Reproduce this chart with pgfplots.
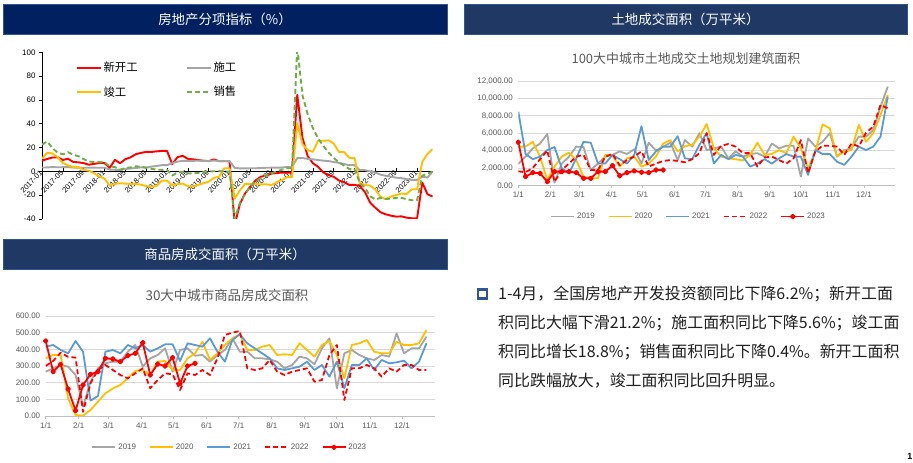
\documentclass[border=0pt]{standalone}
\usepackage{fontspec}
\setmainfont{Liberation Sans}
\newfontfamily\cjk{Noto Sans CJK SC}
\usepackage{pgfplots}
\usepackage{pgfplotstable}
\pgfplotsset{compat=1.18}
\definecolor{cRed}{HTML}{FF0000}
\definecolor{cYel}{HTML}{FFC000}
\definecolor{cGray}{HTML}{A5A5A5}
\definecolor{cBlue}{HTML}{5B9BD5}
\definecolor{cGreen}{HTML}{70AD47}
\definecolor{txtGray}{HTML}{595959}
\definecolor{gridGray}{HTML}{D9D9D9}
\definecolor{axGray}{HTML}{BFBFBF}
\definecolor{navyA}{HTML}{002060}
\definecolor{navyB}{HTML}{1F3864}
\definecolor{edgeBlue}{HTML}{2F5597}

% month index 0 = 2017-01 ... 75 = 2023-04 ; cumulative YoY %
\pgfplotstableread{
m xk sg jg xs
0 9.0 3.2 10.7 22.5
1 10.4 3.3 15.7 25.1
2 11.6 3.6 15.0 19.5
3 11.8 3.4 12.0 15.7
4 9.6 3.5 7.0 14.3
5 10.6 3.6 5.0 16.1
6 7.9 3.2 3.6 14.0
7 7.6 3.1 3.6 12.7
8 6.9 3.0 1.2 10.3
9 5.6 3.0 0.5 8.2
10 6.3 3.1 -1.5 7.9
11 7.0 3.0 -4.4 7.7
12 7.0 3.0 -6.0 7.7
13 2.9 1.5 -12.0 4.1
14 9.7 1.3 -10.4 3.6
15 6.8 1.3 -10.0 1.3
16 10.2 2.0 -10.3 2.9
17 11.8 2.4 -10.5 3.3
18 14.4 2.8 -10.5 4.2
19 15.5 3.3 -11.2 4.0
20 16.4 3.3 -12.4 2.9
21 16.3 4.0 -12.8 2.2
22 16.8 4.5 -12.3 1.4
23 17.2 5.2 -7.8 1.3
24 17.2 5.2 -7.8 1.3
25 6.0 6.8 -11.9 -3.6
26 11.9 8.2 -10.8 -0.9
27 13.1 8.8 -10.3 -0.3
28 10.5 8.8 -12.4 -1.6
29 10.1 8.8 -12.7 -1.8
30 9.5 9.0 -11.3 -1.3
31 8.9 8.8 -10.0 -0.6
32 8.6 8.7 -8.6 -0.1
33 10.0 9.0 -5.5 0.1
34 8.6 8.7 -4.5 0.2
35 8.5 8.7 2.6 -0.1
36 8.5 8.7 2.6 -0.1
37 -44.9 2.9 -22.9 -39.9
38 -27.2 2.5 -15.8 -26.3
39 -18.4 2.5 -10.5 -19.3
40 -12.8 2.6 -10.7 -12.3
41 -7.6 2.6 -10.5 -8.4
42 -4.5 2.8 -11.0 -5.8
43 -3.6 3.0 -10.8 -3.3
44 -1.9 3.1 -11.6 -1.8
45 -1.5 3.1 -9.2 0.0
46 -1.0 3.2 -7.3 1.3
47 -1.2 3.7 -4.9 2.6
48 -1.2 3.7 -4.9 2.6
49 64.3 11.1 40.4 104.9
50 28.2 11.2 22.9 63.8
51 12.8 10.5 17.9 48.1
52 6.9 10.1 16.4 36.3
53 3.8 9.5 25.7 27.7
54 -0.9 9.0 25.7 21.5
55 -3.2 8.6 26.0 15.9
56 -4.5 7.9 23.4 11.3
57 -7.7 7.1 16.3 7.5
58 -9.1 6.1 16.2 4.8
59 -11.4 5.2 11.2 1.9
60 -11.4 5.2 11.2 1.9
61 -12.2 1.0 -9.8 -9.6
62 -17.5 1.0 -11.5 -13.8
63 -26.3 0.0 -11.9 -20.9
64 -30.6 -1.0 -15.3 -23.6
65 -34.4 -2.8 -21.5 -22.2
66 -36.1 -3.7 -23.3 -23.1
67 -37.2 -4.5 -21.1 -23.0
68 -38.0 -5.3 -19.9 -22.2
69 -37.8 -5.7 -18.7 -22.3
70 -38.9 -6.5 -19.0 -23.3
71 -39.4 -7.2 -15.0 -24.3
72 -39.4 -7.2 -15.0 -24.3
73 -9.4 -4.4 8.0 -3.6
74 -19.2 -5.2 14.7 -1.8
75 -21.2 0.0 18.8 -0.4
}\tabRE

% land: day of year, weekly
\pgfplotstableread{
d y19 y20 y21 y22
0 2450 4450 8470 1600
7 3300 4450 3600 1500
14 4250 5000 3000 2000
21 4800 3300 3300 3000
28 5900 600 4050 4000
35 300 2150 4400 400
42 2500 3300 1950 1750
49 3300 3750 1400 2500
56 4450 2900 3100 3300
63 4400 1000 5000 3500
70 1750 800 4900 1750
77 2500 800 2500 1750
84 3300 3500 2500 3300
91 3500 3400 3500 3600
98 3900 2150 3000 2300
105 3600 3100 2500 2900
112 4150 3300 3500 3300
119 2500 2150 6800 3900
126 4900 2500 2900 2150
133 4000 3300 3900 2500
140 4450 4800 4450 2800
147 4900 5200 4450 2900
154 2900 3900 5650 2800
161 5200 4500 3100 2650
168 4450 4650 3000 3000
175 6000 5600 4650 3700
182 4050 7050 6000 6000
189 4250 4250 2500 3500
196 4450 3300 3500 4550
203 3100 3100 3000 4750
210 3900 3000 3500 4450
217 3300 2850 3300 3700
224 3600 3500 2150 3700
231 3700 4900 2500 2150
238 3300 3500 3000 3200
245 4800 3600 2500 3300
252 4250 4050 3100 2900
259 4550 3700 3600 2500
266 4550 5600 3300 3100
273 1000 4250 3300 5200
280 5400 1950 1200 1400
287 4450 3900 4050 3900
294 5000 7000 3600 4550
301 6000 6550 3600 4550
308 3300 3300 2700 4450
315 4050 3900 2350 3500
322 4250 4050 3300 4800
329 5600 6950 4450 4450
336 5600 5000 4050 6050
343 6350 6000 4450 6750
350 9050 8100 5600 9250
357 11350 10400 10200 8850
}\tabLand

\pgfplotstableread{
d y23
0 4950
7 1000
14 1450
21 1380
28 420
35 1570
42 1570
49 1570
56 1450
63 800
70 800
77 1570
84 1570
91 2260
98 1100
105 1450
112 1650
119 1500
126 1450
133 1760
140 1760
}\tabLandB

\pgfplotstableread{
d y19 y20 y21 y22
0 266 346 416 300
7 286 366 426 330
14 306 366 396 380
21 296 106 376 355
28 246 6 450 350
35 56 2 386 25
42 206 36 92 196
49 286 86 120 276
56 316 136 386 306
63 326 166 396 276
70 326 186 376 246
77 386 226 426 226
84 426 270 406 256
91 296 276 426 286
98 346 246 386 166
105 366 326 406 216
112 406 330 430 256
119 266 276 430 250
126 396 276 330 156
133 406 346 436 256
140 362 376 426 246
147 366 446 416 276
154 326 336 466 246
161 366 376 386 346
168 396 426 326 486
175 466 466 456 500
182 386 490 490 510
189 386 396 436 286
196 346 396 406 276
203 346 416 376 286
210 340 426 346 336
217 326 366 286 266
224 286 370 276 246
231 306 366 286 266
238 356 436 296 276
245 346 396 326 286
252 310 356 276 206
259 406 426 306 216
266 466 450 236 366
273 166 366 326 426
280 376 226 166 96
287 396 426 306 286
294 366 436 306 286
301 346 456 346 306
308 336 386 276 286
315 366 376 336 236
322 356 376 316 286
329 496 446 322 266
336 376 426 332 306
343 406 426 286 306
350 406 436 326 276
357 476 516 436 276
}\tabHouse

\pgfplotstableread{
d y23
0 450
7 266
14 310
21 162
28 32
35 186
42 250
49 266
56 346
63 342
70 326
77 362
84 376
91 440
98 246
105 312
112 300
119 350
126 196
133 300
140 316
}\tabHouseB

\pgfplotsset{
  weekly/.style={
    scale only axis, anchor=south west,
    xmin=0, ymin=0,
    axis x line=bottom, axis y line=left,
    axis line style={-},
    y axis line style={draw=none},
    x axis line style={draw=axGray, line width=0.9bp},
    ytick style={draw=none},
    xtick style={draw=axGray, line width=0.8bp},
    tick align=outside, major tick length=3bp,
    scaled y ticks=false,
    ymajorgrids, grid style={draw=gridGray, line width=0.7bp},
    xtick={0,31,59,90,120,151,181,212,243,273,304,334},
    xticklabels={1/1,2/1,3/1,4/1,5/1,6/1,7/1,8/1,9/1,10/1,11/1,12/1},
    ticklabel style={font=\fontsize{8}{9}\selectfont, text=txtGray},
    yticklabel style={xshift=1bp},
    every axis plot/.append style={line width=1.8bp, line join=round},
    legend columns=5,
    legend style={draw=none, fill=none, font=\fontsize{8}{9}\selectfont, text=txtGray,
      /tikz/every even column/.append style={column sep=11bp}},
    legend image code/.code={\draw[mark repeat=2,mark phase=2,#1] plot coordinates {(0bp,0bp) (11.5bp,0bp) (23bp,0bp)};},
  }
}

\begin{document}
\begin{tikzpicture}[x=1bp,y=1bp]
\path[use as bounding box, fill=white] (0,0) rectangle (913,463);

% headers
\fill[navyA] (3,429) rectangle (447,459);
\draw[edgeBlue, line width=0.6bp] (3,429) rectangle (447,459);
\node[text=white, font=\cjk\fontsize{13.5}{15}\selectfont] at (225,444) {房地产分项指标（\%）};
\fill[navyB] (464,429) rectangle (907,459);
\draw[edgeBlue, line width=0.6bp] (464,429) rectangle (907,459);
\node[text=white, font=\cjk\fontsize{13.5}{15}\selectfont] at (685.5,444) {土地成交面积（万平米）};
\fill[navyB] (3,194) rectangle (447,224);
\draw[edgeBlue, line width=0.6bp] (3,194) rectangle (447,224);
\node[text=white, font=\cjk\fontsize{13.5}{15}\selectfont] at (225,209) {商品房成交面积（万平米）};

% chart titles
\node[text=txtGray, font=\cjk\fontsize{13}{15}\selectfont] at (686,404) {100大中城市土地成交土地规划建筑面积};
\node[text=txtGray, font=\cjk\fontsize{13.5}{15}\selectfont] at (227,168) {30大中城市商品房成交面积};

% ---------------- chart 1 ----------------
\begin{axis}[
  at={(42bp,244bp)}, anchor=south west, scale only axis,
  width=390.7bp, height=166.7bp,
  xmin=0, xmax=75, ymin=-40, ymax=100,
  axis x line=middle, axis y line=left,
  axis line style={-, black, line width=0.8bp},
  hide obscured x ticks=false, hide obscured y ticks=false,
  ytick={-40,-20,0,20,40,60,80,100},
  yticklabels={-40,-20,0,20,40,60,80,100},
  xtick={0,4,...,72},
  xticklabels={2017-01,2017-05,2017-09,2018-01,2018-05,2018-09,2019-01,2019-05,2019-09,2020-01,2020-05,2020-09,2021-01,2021-05,2021-09,2022-01,2022-05,2022-09,2023-01},
  major tick length=3bp,
  xtick align=inside, ytick align=outside,
  tick style={black, line width=0.6bp},
  yticklabel style={font=\fontsize{8}{9}\selectfont},
  xticklabel style={font=\fontsize{7.5}{8}\selectfont, rotate=45, anchor=east, inner sep=1bp},
  every axis plot/.append style={line width=1.9bp, line join=round},
  legend columns=2,
  legend cell align=left,
  legend style={draw=none, fill=none, at={(0.078,0.965)}, anchor=north west,
    font=\cjk\fontsize{11.4}{13}\selectfont, row sep=9bp,
    /tikz/every even column/.append style={column sep=46bp}},
  legend image code/.code={\draw[#1] (0bp,0bp) -- (24bp,0bp);},
]
\addplot[cRed] table[x=m, y=xk] {\tabRE};
\addlegendentry{新开工}
\addplot[cGray] table[x=m, y=sg] {\tabRE};
\addlegendentry{施工}
\addplot[cYel] table[x=m, y=jg] {\tabRE};
\addlegendentry{竣工}
\addplot[cGreen, dash pattern=on 5bp off 3bp] table[x=m, y=xs] {\tabRE};
\addlegendentry{销售}
\end{axis}

% ---------------- chart 2 ----------------
\begin{axis}[weekly,
  at={(518.3bp,277.7bp)}, width=376.7bp, height=104.3bp,
  xmax=364, ymax=12000,
  ytick={0,2000,4000,6000,8000,10000,12000},
  yticklabels={0.00,{2,000.00},{4,000.00},{6,000.00},{8,000.00},{10,000.00},{12,000.00}},
  legend style={at={(0.452,-0.30)}, anchor=center},
]
\addplot[cGray] table[x=d, y=y19] {\tabLand};
\addlegendentry{2019}
\addplot[cYel] table[x=d, y=y20] {\tabLand};
\addlegendentry{2020}
\addplot[cBlue] table[x=d, y=y21] {\tabLand};
\addlegendentry{2021}
\addplot[cRed, dash pattern=on 5bp off 3bp] table[x=d, y=y22] {\tabLand};
\addlegendentry{2022}
\addplot[cRed, mark=*, mark size=1.9bp, mark options={solid}] table[x=d, y=y23] {\tabLandB};
\addlegendentry{2023}
\end{axis}

% ---------------- chart 3 ----------------
\begin{axis}[weekly,
  at={(45.7bp,47bp)}, width=389.3bp, height=100bp,
  xmax=365, ymax=600,
  ytick={0,100,200,300,400,500,600},
  yticklabels={0.00,100.00,200.00,300.00,400.00,500.00,600.00},
  legend style={at={(0.473,-0.313)}, anchor=center},
]
\addplot[cGray] table[x=d, y=y19] {\tabHouse};
\addlegendentry{2019}
\addplot[cYel] table[x=d, y=y20] {\tabHouse};
\addlegendentry{2020}
\addplot[cBlue] table[x=d, y=y21] {\tabHouse};
\addlegendentry{2021}
\addplot[cRed, dash pattern=on 5bp off 3bp] table[x=d, y=y22] {\tabHouse};
\addlegendentry{2022}
\addplot[cRed, mark=*, mark size=1.9bp, mark options={solid}] table[x=d, y=y23] {\tabHouseB};
\addlegendentry{2023}
\end{axis}

% ---------------- text panel ----------------
\draw[edgeBlue, line width=2.2bp, fill=white] (478,164.5) rectangle (487,173.5);
\begin{scope}[every node/.style={anchor=west, inner sep=0pt, text=black!88, font=\cjk\fontsize{16}{18}\selectfont}]
\node at (498,169) {1-4月，全国房地产开发投资额同比下降6.2\%；新开工面};
\node at (498,139.7) {积同比大幅下滑21.2\%；施工面积同比下降5.6\%；竣工面};
\node at (498,110.7) {积同比增长18.8\%；销售面积同比下降0.4\%。新开工面积};
\node at (498,82.3) {同比跌幅放大，竣工面积同比回升明显。};
\end{scope}
\node[anchor=south east, inner sep=0pt, font=\bfseries\fontsize{9}{10}\selectfont] at (912.5,3) {1};
\end{tikzpicture}
\end{document}
